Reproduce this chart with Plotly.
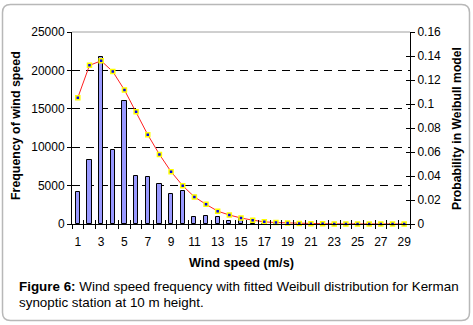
import plotly.graph_objects as go

W, H = 473, 325
L, R, T, B = 72, 63, 32, 101

speed = list(range(1, 30))
frequency = [4200, 8300, 21800, 9700, 16000, 6300, 6150, 5200, 3900, 4300,
             850, 1000, 850, 350, 600, 150, 60, 30, 20, 10,
             0, 0, 0, 0, 0, 0, 0, 0, 0]
weibull = [0.1053, 0.1322, 0.1360, 0.1270, 0.1117, 0.0936, 0.0744, 0.0580,
           0.0436, 0.0319, 0.0226, 0.0164, 0.0107, 0.0075, 0.0050, 0.0032,
           0.0018, 0.0012, 0.0008, 0.0005, 0.0003, 0.0002, 0.0001, 0.0001,
           0.0, 0.0, 0.0, 0.0, 0.0]
x_labels = [str(v) for v in range(1, 30, 2)]
y_left_ticks = [0, 5000, 10000, 15000, 20000, 25000]
y_left_text = ["0", "5000", "10000", "15000", "20000", "25000"]
y_right_ticks = [0, 0.02, 0.04, 0.06, 0.08, 0.1, 0.12, 0.14, 0.16]
y_right_text = ["0", "0.02", "0.04", "0.06", "0.08", "0.1", "0.12", "0.14", "0.16"]

FONT = "Liberation Sans, Arial, sans-serif"
PW, PH = W - L - R, H - T - B


def px(x):
    return (x - L) / PW


def py(y):
    return (H - B - y) / PH


fig = go.Figure()
fig.add_trace(go.Bar(x=speed, y=frequency, width=0.36,
                     marker=dict(color="#9999FF", line=dict(color="black", width=1)),
                     xaxis="x", yaxis="y", showlegend=False))
fig.add_trace(go.Scatter(x=speed, y=weibull, mode="lines+markers",
                         line=dict(color="#FF2020", width=1),
                         marker=dict(symbol="square", size=4, color="#0000EE",
                                     line=dict(color="#FFFF00", width=1.5)),
                         xaxis="x", yaxis="y2", showlegend=False, cliponaxis=False))
# helper invisible traces to instantiate overlay axes (crossing ticks, labels)
fig.add_trace(go.Scatter(x=[1], y=[None], xaxis="x2", yaxis="y3",
                         showlegend=False, hoverinfo="skip"))
fig.add_trace(go.Scatter(x=[1], y=[None], xaxis="x3", yaxis="y",
                         showlegend=False, hoverinfo="skip"))

bounds = [v + 0.5 for v in range(0, 30)]

fig.update_layout(
    width=W, height=H,
    margin=dict(l=L, r=R, t=T, b=B),
    paper_bgcolor="white", plot_bgcolor="white",
    font=dict(family=FONT, size=12, color="black"),
    bargap=0,
    xaxis=dict(range=[0.5, 29.5], tickmode="array", tickvals=bounds,
               showticklabels=False, ticks="outside", ticklen=4,
               tickcolor="black", tickwidth=1,
               showline=True, linecolor="black", linewidth=1,
               showgrid=False, zeroline=False, fixedrange=True),
    xaxis2=dict(range=[0.5, 29.5], overlaying="x", anchor="y",
                tickmode="array", tickvals=list(range(1, 30, 2)), ticktext=x_labels,
                ticks="outside", ticklen=7, tickcolor="rgba(0,0,0,0)",
                showline=False, showgrid=False,
                zeroline=False, tickfont=dict(size=12)),
    xaxis3=dict(range=[0.5, 29.5], overlaying="x", anchor="y",
                tickmode="array", tickvals=bounds, ticks="inside",
                ticklen=4, tickcolor="black", showticklabels=False,
                showline=False, showgrid=False, zeroline=False),
    yaxis=dict(range=[0, 25000], tickmode="array", tickvals=y_left_ticks,
               ticktext=y_left_text,
               ticks="outside", ticklen=4, tickcolor="black",
               showline=True, linecolor="black", linewidth=1,
               showgrid=True, gridcolor="black", griddash="8px,6px", gridwidth=1,
               zeroline=False, tickfont=dict(size=12)),
    yaxis2=dict(range=[0, 0.16], overlaying="y", side="right", anchor="x",
                tickmode="array", tickvals=y_right_ticks, ticktext=y_right_text,
                ticks="outside", ticklen=4, tickcolor="black",
                showline=True, linecolor="black", linewidth=1,
                showgrid=False, zeroline=False, tickfont=dict(size=12)),
    yaxis3=dict(range=[0, 0.16], overlaying="y", side="right", anchor="x2",
                tickmode="array", tickvals=y_right_ticks,
                ticks="inside", ticklen=4, tickcolor="black",
                showticklabels=False, showline=False, showgrid=False, zeroline=False),
)

# plot area top border (gray)
fig.add_shape(type="line", xref="paper", yref="paper", x0=0, x1=1, y0=1, y1=1,
              line=dict(color="#A0A0A0", width=1), layer="above")

# outer rounded frame
x0, x1, y0, y1, r = 2.5, 469.5, 4.5, 320.5, 8
path = (f"M {px(x0 + r)},{py(y0)} L {px(x1 - r)},{py(y0)} "
        f"Q {px(x1)},{py(y0)} {px(x1)},{py(y0 + r)} "
        f"L {px(x1)},{py(y1 - r)} Q {px(x1)},{py(y1)} {px(x1 - r)},{py(y1)} "
        f"L {px(x0 + r)},{py(y1)} Q {px(x0)},{py(y1)} {px(x0)},{py(y1 - r)} "
        f"L {px(x0)},{py(y0 + r)} Q {px(x0)},{py(y0)} {px(x0 + r)},{py(y0)} Z")
fig.add_shape(type="path", xref="paper", yref="paper", path=path,
              line=dict(color="#B8B8B8", width=1.5))

anns = [
    dict(text="<b>Wind speed (m/s)</b>", x=px(241), y=py(263), xanchor="center",
         yanchor="middle", font=dict(size=12.7)),
    dict(text="<b>Frequency of wind speed</b>", x=px(16), y=py(125), textangle=-90,
         xanchor="center", yanchor="middle", font=dict(size=12.4)),
    dict(text="<b>Probability in Weibull model</b>", x=px(457), y=py(129), textangle=-90,
         xanchor="center", yanchor="middle", font=dict(size=12.2)),
    dict(text="<b>Figure 6:</b> Wind speed frequency with fitted Weibull distribution for Kerman",
         x=px(17), y=py(286.5), xanchor="left", yanchor="middle", align="left",
         font=dict(size=13.4)),
    dict(text="synoptic station at 10 m height.",
         x=px(17), y=py(302.5), xanchor="left", yanchor="middle", align="left",
         font=dict(size=13.4)),
]
for a in anns:
    fig.add_annotation(xref="paper", yref="paper", showarrow=False, **a)

fig.write_html("out.html")
